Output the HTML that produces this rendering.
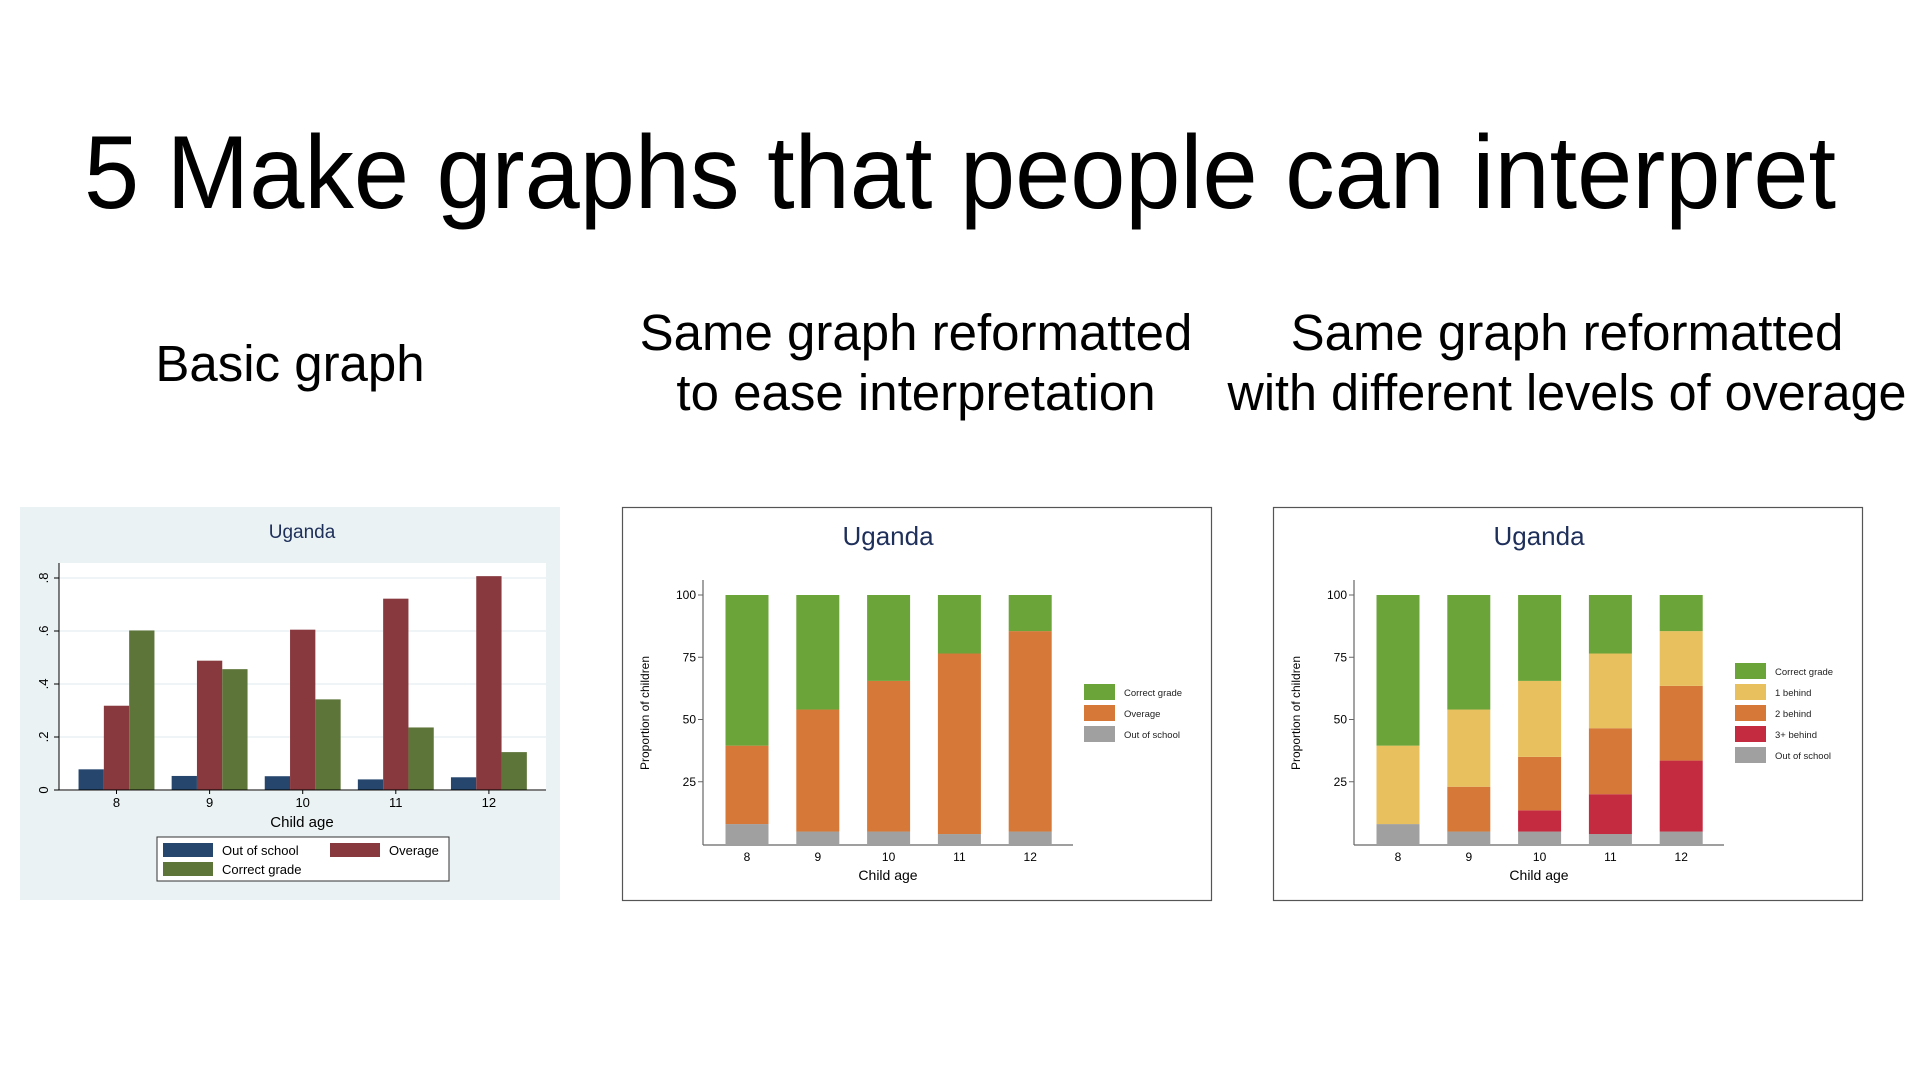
<!DOCTYPE html>
<html><head><meta charset="utf-8"><style>
html,body{margin:0;padding:0;background:#fff}
svg{display:block;font-family:"Liberation Sans",sans-serif}
</style></head><body>
<svg id="s" width="1920" height="1080" viewBox="0 0 1920 1080">
<text x="960" y="208" text-anchor="middle" font-size="104" fill="#000" textLength="1752" lengthAdjust="spacingAndGlyphs">5 Make graphs that people can interpret</text>
<text x="290" y="381" text-anchor="middle" font-size="51">Basic graph</text>
<text x="916" y="350" text-anchor="middle" font-size="51">Same graph reformatted</text>
<text x="916" y="410" text-anchor="middle" font-size="51">to ease interpretation</text>
<text x="1567" y="350" text-anchor="middle" font-size="51">Same graph reformatted</text>
<text x="1567" y="410" text-anchor="middle" font-size="51" textLength="679" lengthAdjust="spacingAndGlyphs">with different levels of overage</text>
<g id="c1"></g>
<g id="c2"></g>
<g id="c3"></g>
</svg>
<script>
const ages=["8","9","10","11","12"];
const basicOut=[0.078,0.053,0.052,0.040,0.048];
const basicOver=[0.318,0.488,0.605,0.722,0.807];
const basicCorrect=[0.602,0.456,0.342,0.236,0.143];
const basicTicks=[0,0.2,0.4,0.6,0.8];
const basicTickLabels=["0",".2",".4",".6",".8"];
const stOut=[8,5,5,4,5];
const stOver=[31.5,49,60.5,72.5,80.5];
const stCorrect=[60.5,46,34.5,23.5,14.5];
const ovOut=[8,5,5,4,5];
const ov3=[0,0,8.5,16,28.5];
const ov2=[0,18,21.5,26.5,30];
const ov1=[31.5,31,30.5,30,22];
const ovCorrect=[60.5,46,34.5,23.5,14.5];
const pctTicks=[25,50,75,100];

const NS="http://www.w3.org/2000/svg";
function mk(p,tag,at,txt){const e=document.createElementNS(NS,tag);for(const k in at)e.setAttribute(k,at[k]);if(txt!==undefined)e.textContent=txt;p.appendChild(e);return e;}

// Chart 1
(function(){
const g=document.getElementById('c1');
let e=mk(g,'rect',{x:20,y:507,width:540,height:393,fill:'#eaf2f3'});

e=mk(g,'rect',{x:59,y:563,width:487,height:228,fill:'#fff'});

e=mk(g,'text',{x:302,y:538,'text-anchor':'middle','font-size':19,fill:'#1e2f5a'},'Uganda');

const y0=790,y1=578,vmax=0.8;const Y=v=>y0-(v/vmax)*(y0-y1);
const x0=59,x1=546;const X=i=>116.5+93.1*i;
basicTicks.forEach((t,i)=>{
 if(t>0){const l=mk(g,'line',{x1:x0,x2:x1,y1:Y(t),y2:Y(t),stroke:'#eaf2f3','stroke-width':1.5});}
 mk(g,'line',{x1:x0-5,x2:x0,y1:Y(t),y2:Y(t),stroke:'#000'});
 const tx=mk(g,'text',{x:0,y:0,'text-anchor':'middle','font-size':13,transform:`translate(48,${Y(t)}) rotate(-90)`},basicTickLabels[i]);
 
});
const bw=25.3;const cols=['#26466d','#87393e','#5d7539'];const ser=[basicOut,basicOver,basicCorrect];
ages.forEach((a,i)=>{
 ser.forEach((s,k)=>{
  const r=mk(g,'rect',{x:X(i)-1.5*bw+k*bw,y:Y(s[i]),width:bw,height:y0-Y(s[i]),fill:cols[k]});
  
  
 });
 mk(g,'line',{x1:X(i),x2:X(i),y1:y0,y2:y0+4,stroke:'#000'});
 const t=mk(g,'text',{x:X(i),y:807,'text-anchor':'middle','font-size':13},a);
 
});
mk(g,'line',{x1:x0,x2:x1,y1:y0,y2:y0,stroke:'#000','stroke-width':1});
mk(g,'line',{x1:x0,x2:x0,y1:563,y2:y0,stroke:'#000','stroke-width':1});
e=mk(g,'text',{x:302,y:827,'text-anchor':'middle','font-size':15},'Child age');

const lg=mk(g,'g',{});
mk(lg,'rect',{x:157,y:837,width:292,height:44,fill:'#fff',stroke:'#333'});
[['#26466d','Out of school',163,843],['#87393e','Overage',330,843],['#5d7539','Correct grade',163,862]].forEach(d=>{
 mk(lg,'rect',{x:d[2],y:d[3],width:50,height:14,fill:d[0]});
 const t=mk(lg,'text',{x:d[2]+59,y:d[3]+12,'font-size':13},d[1]);
 
});
})();

function stacked(id,dx,series,colors,names,legendY0){
 const g=document.getElementById(id);
 let e=mk(g,'rect',{x:622.5+dx,y:507.5,width:589,height:393,fill:'#fff',stroke:'#555','stroke-width':1.2});
 
 e=mk(g,'text',{x:888+dx,y:545,'text-anchor':'middle','font-size':26,fill:'#1e2f5a'},'Uganda');
 
 const y0=844,y100=595;const Y=v=>y0-v/100*(y0-y100);
 const ax=703+dx,ax1=1073+dx;const X=i=>747+dx+i*70.8;const bw=43;
 pctTicks.forEach(t=>{
  mk(g,'line',{x1:ax-5,x2:ax,y1:Y(t),y2:Y(t),stroke:'#666'});
  const tx=mk(g,'text',{x:ax-7,y:Y(t)+4,'text-anchor':'end','font-size':12},String(t));
  
 });
 ages.forEach((a,i)=>{
  let acc=0;
  series.forEach((s,k)=>{
   const r=mk(g,'rect',{x:X(i)-bw/2,y:Y(acc+s[i]),width:bw,height:Y(acc)-Y(acc+s[i]),fill:colors[k]});
   
   
   acc+=s[i];
  });
  const t=mk(g,'text',{x:X(i),y:861,'text-anchor':'middle','font-size':12},a);
  
 });
 mk(g,'line',{x1:ax,x2:ax1,y1:y0+1,y2:y0+1,stroke:'#666','stroke-width':1.2});
 mk(g,'line',{x1:ax,x2:ax,y1:580,y2:y0+1,stroke:'#666','stroke-width':1.2});
 e=mk(g,'text',{x:888+dx,y:880,'text-anchor':'middle','font-size':14},'Child age');
 
 e=mk(g,'text',{x:0,y:0,'text-anchor':'middle','font-size':12,transform:`translate(${649+dx},713) rotate(-90)`},'Proportion of children');
 
 const lg=mk(g,'g',{});
 for(let k=series.length-1,r=0;k>=0;k--,r++){
  const yy=legendY0+r*21;
  mk(lg,'rect',{x:1084+dx,y:yy-8,width:31,height:16,fill:colors[k]});
  const t=mk(lg,'text',{x:1124+dx,y:yy+4,'font-size':9.5,fill:'#222'},names[k]);
  
 }
}
stacked('c2',0,[stOut,stOver,stCorrect],['#a0a0a0','#d57838','#6ba539'],['Out of school','Overage','Correct grade'],692);
stacked('c3',651,[ovOut,ov3,ov2,ov1,ovCorrect],['#a0a0a0','#c42b40','#d57838','#e8c05e','#6ba539'],['Out of school','3+ behind','2 behind','1 behind','Correct grade'],671);
</script>
</body></html>
